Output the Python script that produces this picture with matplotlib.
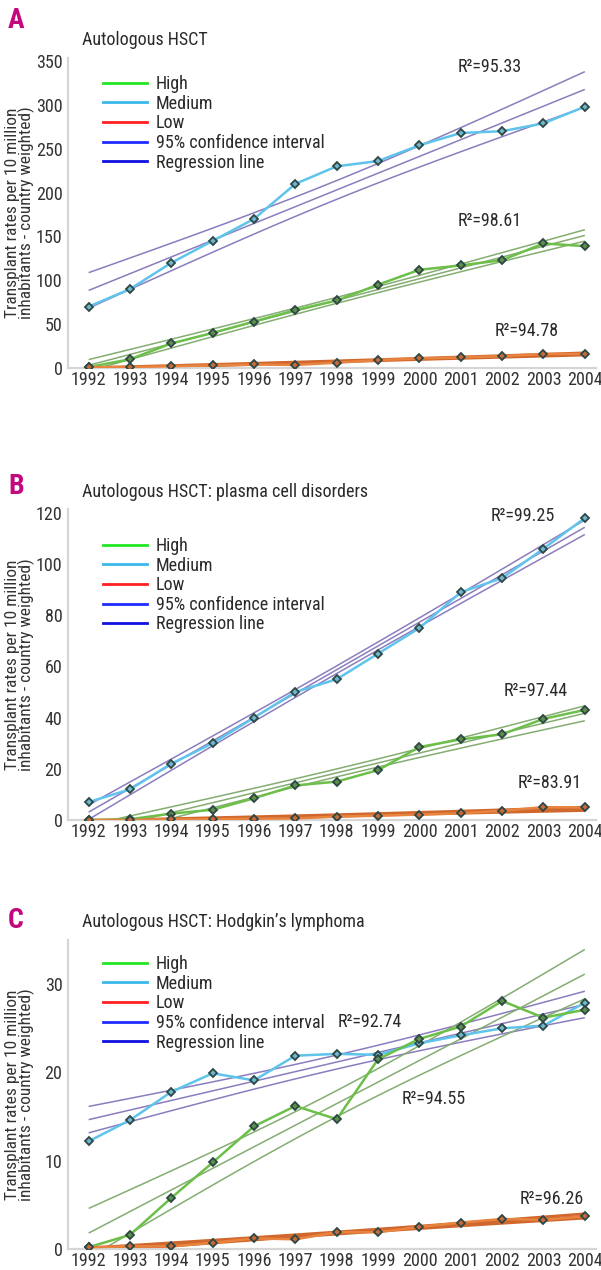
import numpy as np
import matplotlib
matplotlib.use("Agg")
from matplotlib import pyplot as plt
from matplotlib import font_manager as fm
from matplotlib.lines import Line2D

# narrow font if one is installed, otherwise Roboto
installed = {(f.name, f.stretch) for f in fm.fontManager.ttflist}
names = {n for n, _ in installed}
if 'Liberation Sans Narrow' in names:
    plt.rcParams['font.family'] = ['Liberation Sans Narrow', 'DejaVu Sans']
    FS = 13
elif 'Roboto Condensed' in names:
    plt.rcParams['font.family'] = ['Roboto Condensed', 'DejaVu Sans']
    FS = 13
elif ('DejaVu Sans', 'condensed') in installed:
    plt.rcParams['font.family'] = ['DejaVu Sans']
    plt.rcParams['font.stretch'] = 'condensed'
    FS = 11.5
else:
    plt.rcParams['font.family'] = ['Roboto', 'DejaVu Sans']
    FS = 11

# ------------------------- data -------------------------
years = [1992, 1993, 1994, 1995, 1996, 1997, 1998, 1999, 2000, 2001, 2002, 2003, 2004]

# A: Autologous HSCT
a_high = [1, 10, 28, 40, 53, 66, 77, 95, 112, 117, 123, 142, 139]
a_medium = [70, 90, 120, 145, 170, 210, 230, 236, 254, 268, 270, 279, 298]
a_low = [1, 1, 2, 3, 4, 3.5, 6, 9, 11, 12, 13.5, 16, 16]
a_r2 = ['95.33', '98.61', '94.78']   # medium, high, low

# B: Autologous HSCT: plasma cell disorders
b_high = [0, 0.3, 2.5, 4, 8.5, 13.5, 15, 19.5, 28.5, 31.5, 33.5, 39.5, 43]
b_medium = [7, 12, 22, 30, 40, 50, 55, 65, 75, 89, 94.5, 106, 118]
b_low = [0, 0, 0.3, 0.3, 0.5, 0.6, 1.3, 1.7, 2.1, 2.6, 3.6, 5, 4.9]
b_r2 = ['99.25', '97.44', '83.91']

# C: Autologous HSCT: Hodgkin's lymphoma
c_high = [0.2, 1.6, 5.8, 9.8, 13.9, 16.2, 14.7, 21.5, 23.8, 25.2, 28.1, 26.2, 27.1]
c_medium = [12.2, 14.6, 17.8, 19.9, 19.1, 21.9, 22.1, 22.0, 23.3, 24.2, 25.0, 25.3, 27.9]
c_low = [0.2, 0.3, 0.3, 0.7, 1.2, 1.1, 1.9, 1.9, 2.5, 3.0, 3.4, 3.3, 3.7]
c_r2 = ['92.74', '94.55', '96.26']

legend_labels = ['High', 'Medium', 'Low', '95% confidence interval', 'Regression line']
ylabel = 'Transplant rates per 10 million\ninhabitants - country weighted)'

T95 = 2.201  # t(0.975, df = 11)

W, H = 601, 1270
fig = plt.figure(figsize=(W / 100, H / 100), dpi=100)
fig.patch.set_facecolor('white')


# ---------------- regression line + 95% confidence band of the mean ----------------
def fit_band(x, y):
    x = np.asarray(x, float)
    y = np.asarray(y, float)
    b, a = np.polyfit(x, y, 1)
    res = y - (a + b * x)
    s = np.sqrt((res ** 2).sum() / (len(x) - 2))
    xs = np.linspace(x.min(), x.max(), 80)
    fit = a + b * xs
    se = s * np.sqrt(1 / len(x) + (xs - x.mean()) ** 2 / ((x - x.mean()) ** 2).sum())
    return xs, fit, fit - T95 * se, fit + T95 * se


def px_axes(left, top, right, bottom):
    return fig.add_axes([left / W, 1 - bottom / H, (right - left) / W, (bottom - top) / H])


def panel(box, letter, letter_y, title, title_y, high, medium, low, r2, r2_xy,
          ymax, yticks, leg_y):
    ax = px_axes(*box)
    styles = [(medium, '#5ec4ec', '#8b7dbd', '#6fb6cf'),
              (high, '#6cbf48', '#84ad72', '#5d8f4a'),
              (low, '#e8843f', '#d0672c', '#c86a3a')]
    for vals, col, ci_col, face in styles:
        xs, fit, lo, hi = fit_band(years, vals)
        lw = 1.8 if vals is low else 1.1
        for line in (lo, fit, hi):
            ax.plot(xs, line, color=ci_col, lw=lw, zorder=2, solid_capstyle='butt')
        ax.plot(years, vals, color=col, lw=1.8, zorder=3,
                marker='D', ms=3.6, mfc=face, mec='#2c4744', mew=1.3)

    for txt, (x, y) in zip(r2, r2_xy):
        ax.text(x, y, 'R²=' + txt, ha='center', va='center', fontsize=FS, color='#2a2a2a')

    handles = [Line2D([], [], color=c, lw=2) for c in
               ['#22e622', '#3ab8ea', '#ff2020', '#1f2bff', '#1010e0']]
    ax.legend(handles, legend_labels, loc='upper left', bbox_to_anchor=(0.066, leg_y),
              frameon=False, fontsize=FS, handlelength=2.45, handletextpad=0.5,
              labelspacing=0.09, borderpad=0, borderaxespad=0, labelcolor='#2a2a2a')

    ax.set_xlim(1991.5, 2004.27)
    ax.set_ylim(0, ymax)
    ax.set_xticks(years)
    ax.set_yticks(yticks)
    ax.tick_params(length=0, labelsize=FS, colors='#333333', pad=4)
    ax.tick_params(axis='x', pad=2.5)
    for side in ('top', 'right'):
        ax.spines[side].set_visible(False)
    for side in ('left', 'bottom'):
        ax.spines[side].set_color('#d6d6d6')
        ax.spines[side].set_linewidth(1.6)

    ax.text((82 - box[0]) / (box[2] - box[0]), 1 + (box[1] - title_y) / (box[3] - box[1]),
            title, transform=ax.transAxes, ha='left', va='center', fontsize=FS, color='#2a2a2a')
    fig.text(8 / W, 1 - letter_y / H, letter, ha='left', va='center', fontsize=20,
             fontweight='bold', color='#c4087c')
    fig.text(20 / W, 1 - (box[1] + box[3]) / 2 / H, ylabel, rotation=90, ha='center',
             va='center', multialignment='center', fontsize=FS - 0.5, color='#333333',
             linespacing=0.88)
    return ax


panel((68, 58, 596, 368), 'A', 21, 'Autologous HSCT', 40,
      a_high, a_medium, a_low, a_r2, [(2001.7, 343), (2001.7, 168), (2002.6, 42)],
      353.5, range(0, 351, 50), 0.945)
panel((68, 509, 596, 820), 'B', 487, 'Autologous HSCT: plasma cell disorders', 492,
      b_high, b_medium, b_low, b_r2, [(2002.5, 118.6), (2002.8, 50.4), (2003.15, 14.5)],
      121.5, range(0, 121, 20), 0.91)
panel((68, 940, 596, 1249), 'C', 920, 'Autologous HSCT: Hodgkin\u2019s lymphoma', 922,
      c_high, c_medium, c_low, c_r2, [(1998.8, 25.7), (2000.35, 17.0), (2003.2, 5.7)],
      35, [0, 10, 20, 30], 0.951)

fig.savefig('out.png', dpi=100, facecolor='white')
